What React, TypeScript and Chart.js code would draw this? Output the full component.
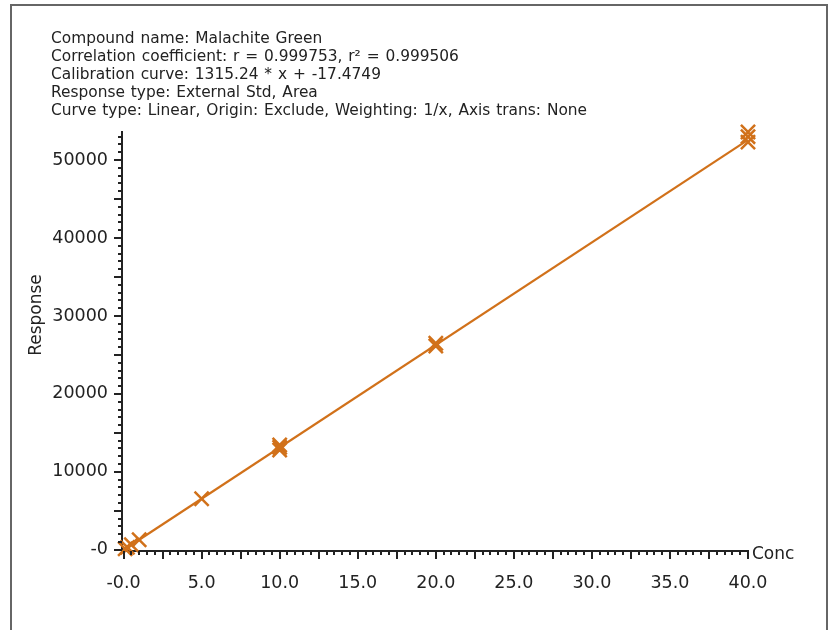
import React, { useEffect, useRef } from "react";
import { Chart, registerables } from "chart.js";

Chart.register(...registerables);

const headerLines = [
  "Compound name: Malachite Green",
  "Correlation coefficient: r = 0.999753, r\u00B2 = 0.999506",
  "Calibration curve: 1315.24 * x + -17.4749",
  "Response type: External Std, Area",
  "Curve type: Linear, Origin: Exclude, Weighting: 1/x, Axis trans: None",
];

const pointsX = [0.1, 0.25, 0.5, 1.0, 5.0, 10.0, 10.0, 10.0, 20.0, 20.0, 40.0, 40.0, 40.0];
const pointsY = [120, 310, 650, 1290, 6560, 12800, 13150, 13450, 26150, 26500, 52300, 53000, 53600];

const fitX = [0, 40];
const fitY = [-17.47, 52592.1];

const xTickValues = [0, 5, 10, 15, 20, 25, 30, 35, 40];
const xTickLabels = ["-0.0", "5.0", "10.0", "15.0", "20.0", "25.0", "30.0", "35.0", "40.0"];
const yTickValues = [0, 10000, 20000, 30000, 40000, 50000];
const yTickLabels = ["-0", "10000", "20000", "30000", "40000", "50000"];

const xAxisTitle = "Conc";
const yAxisTitle = "Response";

const ORANGE = "#D1711A";
const INK = "#222222";
const FONT = "'DejaVu Sans', Verdana, sans-serif";

const tickPlugin = {
  id: "minorTicks",
  afterDraw(chart: any) {
    const { ctx, chartArea, scales } = chart;
    const xs = scales.x;
    const ys = scales.y;
    ctx.save();
    ctx.strokeStyle = INK;
    ctx.lineWidth = 2;
    for (let i = 0; i <= 80; i++) {
      const v = i * 0.5;
      const px = Math.round(xs.getPixelForValue(v));
      const len = i % 5 === 0 ? 8 : 4;
      ctx.beginPath();
      ctx.moveTo(px, chartArea.bottom);
      ctx.lineTo(px, chartArea.bottom + len);
      ctx.stroke();
    }
    for (let i = 0; i <= 53; i++) {
      const v = i * 1000;
      const py = Math.round(ys.getPixelForValue(v));
      const len = i % 5 === 0 ? 8 : 4;
      ctx.beginPath();
      ctx.moveTo(chartArea.left, py);
      ctx.lineTo(chartArea.left - len, py);
      ctx.stroke();
    }
    ctx.fillStyle = INK;
    ctx.font = `17px ${FONT}`;
    ctx.textAlign = "left";
    ctx.textBaseline = "middle";
    ctx.fillText(xAxisTitle, chartArea.right + 4, chartArea.bottom + 4);
    ctx.translate(37, chart.height / 2);
    ctx.rotate(-Math.PI / 2);
    ctx.textAlign = "center";
    ctx.fillText(yAxisTitle, 0, 0);
    ctx.restore();
  },
};

export default function App() {
  const ref = useRef<HTMLCanvasElement | null>(null);

  useEffect(() => {
    if (!ref.current) return;
    const chart = new Chart(ref.current, {
      type: "scatter",
      data: {
        datasets: [
          {
            type: "line",
            label: "fit",
            data: fitX.map((x, i) => ({ x, y: fitY[i] })),
            borderColor: ORANGE,
            borderWidth: 2.2,
            pointRadius: 0,
            fill: false,
            clip: false,
          } as any,
          {
            type: "scatter",
            label: "points",
            data: pointsX.map((x, i) => ({ x, y: pointsY[i] })),
            pointStyle: "crossRot",
            pointRadius: 10,
            borderColor: ORANGE,
            backgroundColor: ORANGE,
            borderWidth: 2.5,
            clip: false,
          } as any,
        ],
      },
      options: {
        animation: false,
        responsive: false,
        maintainAspectRatio: false,
        layout: { padding: { top: 132, right: 81, left: 0, bottom: 0 } },
        plugins: {
          legend: { display: false },
          tooltip: { enabled: false },
        },
        scales: {
          x: {
            type: "linear",
            min: -0.1,
            max: 40,
            afterBuildTicks: (scale: any) => {
              scale.ticks = xTickValues.map((v) => ({ value: v }));
            },
            afterFit: (scale: any) => {
              scale.height = 79;
            },
            ticks: {
              autoSkip: false,
              maxRotation: 0,
              padding: 22,
              color: INK,
              font: { family: FONT, size: 17.5 },
              callback: (_v: any, i: number) => xTickLabels[i],
            },
            grid: { display: true, drawOnChartArea: false, drawTicks: false },
            border: { display: true, color: INK, width: 2 },
          },
          y: {
            type: "linear",
            min: -150,
            max: 53600,
            afterBuildTicks: (scale: any) => {
              scale.ticks = yTickValues.map((v) => ({ value: v }));
            },
            afterFit: (scale: any) => {
              scale.width = 122;
            },
            ticks: {
              autoSkip: false,
              padding: 14,
              color: INK,
              font: { family: FONT, size: 17.5 },
              callback: (_v: any, i: number) => yTickLabels[i],
            },
            grid: { display: true, drawOnChartArea: false, drawTicks: false },
            border: { display: true, color: INK, width: 2 },
          },
        },
      },
      plugins: [tickPlugin],
    });
    return () => chart.destroy();
  }, []);

  return (
    <div style={{ position: "absolute", left: 0, top: 0, width: 829, height: 630, overflow: "hidden", background: "#fff" }}>
      <div
        style={{
          position: "absolute",
          left: 10,
          top: 4,
          width: 814,
          height: 700,
          border: "2px solid #666",
          borderBottom: "none",
        }}
      />
      <canvas ref={ref} width={829} height={630} style={{ position: "absolute", left: 0, top: 0, width: 829, height: 630 }} />
      <div
        style={{
          position: "absolute",
          left: 51,
          top: 29,
          fontFamily: FONT,
          fontSize: 15.4,
          lineHeight: "18px",
          wordSpacing: "1px",
          color: INK,
          whiteSpace: "pre",
        }}
      >
        {headerLines.map((l, i) => (
          <div key={i}>{l}</div>
        ))}
      </div>
    </div>
  );
}
